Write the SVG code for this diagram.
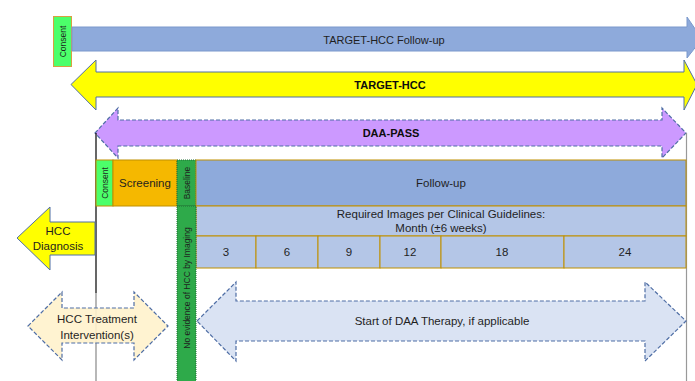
<svg xmlns="http://www.w3.org/2000/svg" width="695" height="381" viewBox="0 0 695 381">
  <style>
    text { font-family: "Liberation Sans", Arial, sans-serif; fill: #1f1f1f; }
    .t11 { font-size: 11.5px; }
    .t10 { font-size: 11px; }
    .b { font-weight: bold; fill: #0d0d0d; }
    .v { font-size: 8.5px; }
    .cell { stroke: #bf9000; stroke-width: 1; }
    .solid { stroke: #4f6ea5; stroke-width: 1; }
    .dash { stroke: #4f6ea5; stroke-width: 1.2; stroke-dasharray: 4 2; }
  </style>

  <!-- timeline bars -->
  <g id="target-followup">
    <rect x="53.5" y="16.5" width="18" height="50" fill="#4cff6a" stroke="#d8a040"/>
    <text class="v" transform="translate(65.5,41.5) rotate(-90)" text-anchor="middle">Consent</text>
    <path d="M72,27 H687 V17 L702,39 L687,58 V51 H72 Z" fill="#8eaadb" stroke="#7a98cc" stroke-width="1"/>
    <text class="t10" x="384" y="44" text-anchor="middle">TARGET-HCC Follow-up</text>
  </g>

  <g id="target-hcc">
    <path d="M71,84.5 L96,60 V72 H684 V60 L697,84.5 L684,110 V97 H96 V110 Z" fill="#ffff00" class="solid"/>
    <text class="t10 b" x="390" y="89" text-anchor="middle">TARGET-HCC</text>
  </g>

  <g id="daa-pass">
    <path d="M95,133 L118,108 V120 H662 V108 L686,133 L662,158 V146 H118 V158 Z" fill="#cc99ff" class="dash"/>
    <text class="t10 b" x="391" y="137" text-anchor="middle">DAA-PASS</text>
  </g>

  <!-- study boundary lines -->
  <g id="boundaries">
    <line x1="96" y1="133" x2="96" y2="293" stroke="#000" stroke-width="1.2"/>
    <line x1="96" y1="293" x2="96" y2="381" stroke="#888" stroke-width="1.2"/>
    <line x1="686.5" y1="133" x2="686.5" y2="381" stroke="#999" stroke-width="1.2"/>
  </g>

  <!-- schedule table -->
  <g id="consent">
    <rect x="96" y="160" width="17" height="46" fill="#4cff6a" class="cell"/>
    <text class="v" transform="translate(108,183) rotate(-90)" text-anchor="middle">Consent</text>
  </g>
  <g id="screening">
    <rect x="113" y="160" width="64" height="46" fill="#f5b800" class="cell"/>
    <text class="t11" x="145" y="187" text-anchor="middle">Screening</text>
  </g>
  <g id="baseline">
    <rect x="177" y="160" width="19" height="46" fill="#2eaa4a" stroke="#1e6b30" stroke-dasharray="1 1"/>
    <text class="v" transform="translate(190,183) rotate(-90)" text-anchor="middle">Baseline</text>
  </g>
  <g id="follow-up">
    <rect x="196" y="160" width="490" height="46" fill="#8eaadb" class="cell"/>
    <text class="t11" x="441" y="187" text-anchor="middle">Follow-up</text>
  </g>
  <g id="required-images">
    <rect x="196" y="206" width="490" height="30" fill="#b4c6e7" class="cell"/>
    <text class="t11" x="441" y="218" text-anchor="middle">Required Images per Clinical Guidelines:</text>
    <text class="t11" x="441" y="232" text-anchor="middle">Month (±6 weeks)</text>
  </g>
  <g id="months">
    <rect x="196" y="236" width="60" height="32" fill="#b4c6e7" class="cell"/>
    <rect x="256" y="236" width="62" height="32" fill="#b4c6e7" class="cell"/>
    <rect x="318" y="236" width="62" height="32" fill="#b4c6e7" class="cell"/>
    <rect x="380" y="236" width="61" height="32" fill="#b4c6e7" class="cell"/>
    <rect x="441" y="236" width="123" height="32" fill="#b4c6e7" class="cell"/>
    <rect x="564" y="236" width="122" height="32" fill="#b4c6e7" class="cell"/>
    <text class="t11" x="226" y="256" text-anchor="middle">3</text>
    <text class="t11" x="287" y="256" text-anchor="middle">6</text>
    <text class="t11" x="349" y="256" text-anchor="middle">9</text>
    <text class="t11" x="410" y="256" text-anchor="middle">12</text>
    <text class="t11" x="502" y="256" text-anchor="middle">18</text>
    <text class="t11" x="625" y="256" text-anchor="middle">24</text>
  </g>
  <g id="no-evidence">
    <rect x="177" y="206" width="19" height="180" fill="#2eaa4a" stroke="#1e6b30" stroke-dasharray="1 1"/>
    <text class="v" transform="translate(190,288) rotate(-90)" text-anchor="middle">No evidence of HCC by Imaging</text>
  </g>

  <!-- outcome arrows -->
  <g id="hcc-diagnosis">
    <path d="M17,238 L50,207 V222 H95 V255 H50 V270 Z" fill="#ffff00" class="solid"/>
    <text class="t11" x="58" y="235" text-anchor="middle">HCC</text>
    <text class="t11" x="58" y="250" text-anchor="middle">Diagnosis</text>
  </g>

  <g id="hcc-treatment">
    <path d="M28,326 L62,292 V308 H134 V292 L168,326 L134,360 V343 H62 V360 Z" fill="#fff2cc" fill-opacity="0.9" class="dash"/>
    <text class="t11" x="97" y="323" text-anchor="middle">HCC Treatment</text>
    <text class="t11" x="97" y="339" text-anchor="middle">Intervention(s)</text>
  </g>

  <g id="daa-therapy">
    <path d="M197,321 L236,282 V301 H645 V282 L686,321 L645,361 V341 H236 V361 Z" fill="#dae3f3" class="dash"/>
    <text class="t11" x="442" y="325" text-anchor="middle">Start of DAA Therapy, if applicable</text>
  </g>
</svg>
